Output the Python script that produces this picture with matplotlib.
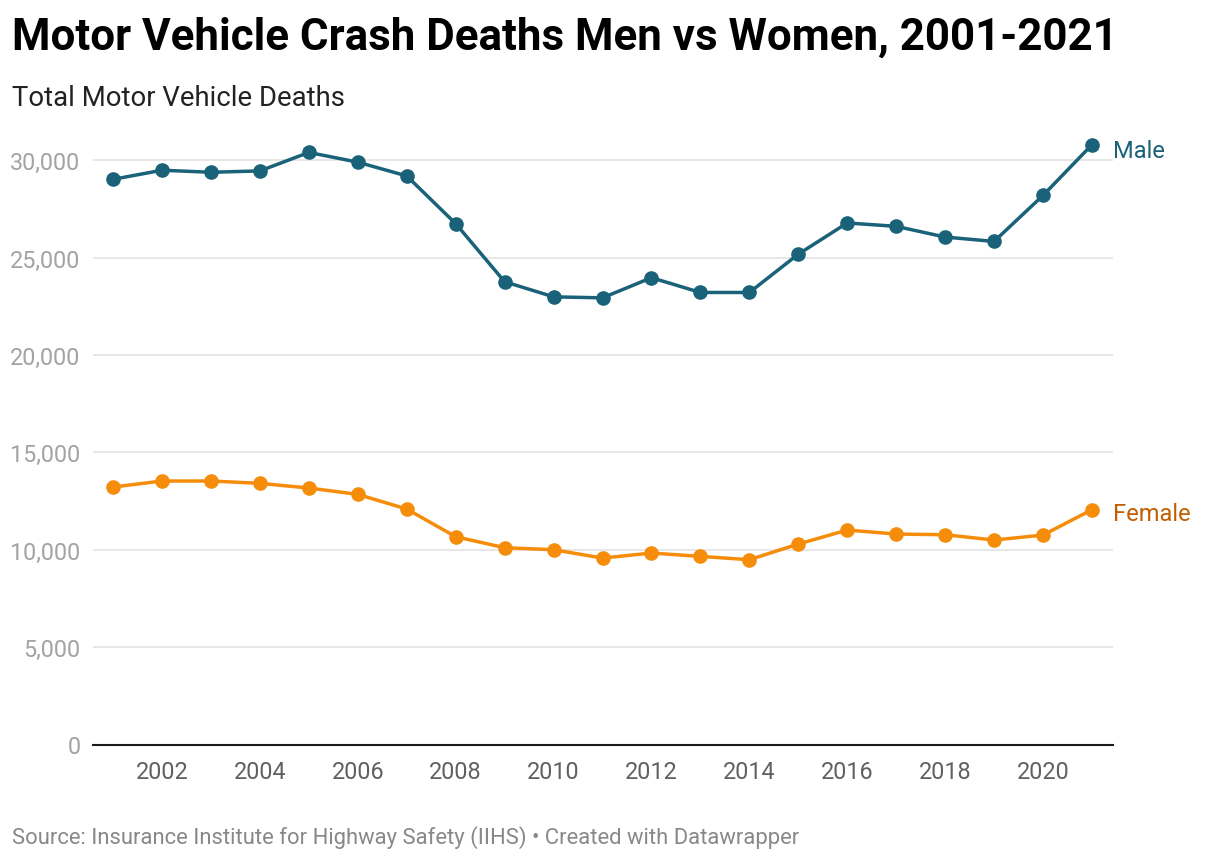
import matplotlib
matplotlib.use("Agg")
import matplotlib.pyplot as plt
from matplotlib.ticker import FuncFormatter

plt.rcParams['font.family'] = ['Roboto', 'DejaVu Sans']

years = list(range(2001, 2022))
male = [29017, 29483, 29379, 29448, 30397, 29897, 29190, 26741, 23759, 22983, 22931,
        23966, 23207, 23207, 25172, 26776, 26603, 26052, 25828, 28190, 30793]
female = [13219, 13527, 13527, 13408, 13168, 12842, 12089, 10668, 10103, 10000, 9572,
          9829, 9658, 9486, 10291, 11010, 10805, 10770, 10497, 10753, 12055]
yticks = [0, 5000, 10000, 15000, 20000, 25000, 30000]
xticks = list(range(2002, 2021, 2))

W, H = 1220, 862
fig = plt.figure(figsize=(W / 100, H / 100), dpi=100)
left, right, top, bottom = 93, 1113, 130, 745.5
ax = fig.add_axes([left / W, 1 - bottom / H, (right - left) / W, (bottom - top) / H])

male_c = '#1a6279'
fem_c = '#f68d0a'
fem_lab = '#c25f00'

ax.plot(years, male, color=male_c, lw=2.5, marker='o', ms=9.5, zorder=3, clip_on=False)
ax.plot(years, female, color=fem_c, lw=2.5, marker='o', ms=9.5, zorder=3, clip_on=False)

ax.set_xlim(2000.59, 2021.43)
ax.set_ylim(0, 31600)
ax.set_yticks(yticks)
ax.set_xticks(xticks)
ax.yaxis.set_major_formatter(FuncFormatter(lambda v, p: f"{int(v):,}"))
ax.grid(axis='y', color='#e3e3e3', lw=1.2, zorder=0)
for s in ['top', 'right', 'left']:
    ax.spines[s].set_visible(False)
ax.spines['bottom'].set_color('#1a1a1a')
ax.spines['bottom'].set_linewidth(1.5)
ax.spines['bottom'].set_zorder(4)
ax.tick_params(axis='y', length=0, pad=9, labelsize=16.8, labelcolor='#a3a3a3')
ax.tick_params(axis='x', length=0, pad=11.5, labelsize=16.8, labelcolor='#606060')

ax.annotate('Male', xy=(years[-1], male[-1]), xytext=(15, -4), textcoords='offset points',
            color=male_c, fontsize=17, va='center', ha='left', annotation_clip=False)
ax.annotate('Female', xy=(years[-1], female[-1]), xytext=(15, -3), textcoords='offset points',
            color=fem_lab, fontsize=17, va='center', ha='left', annotation_clip=False)

fig.text(12 / W, 1 - 38 / H, 'Motor Vehicle Crash Deaths Men vs Women, 2001-2021',
         fontsize=31.6, fontweight='bold', color='#000000', va='center', ha='left')
fig.text(12 / W, 1 - 98 / H, 'Total Motor Vehicle Deaths',
         fontsize=19.8, color='#222222', va='center', ha='left')
fig.text(12 / W, 1 - 838 / H, 'Source: Insurance Institute for Highway Safety (IIHS) \u2022 Created with Datawrapper',
         fontsize=15.8, color='#888888', va='center', ha='left')

fig.savefig('out.png', dpi=100, facecolor='white')
